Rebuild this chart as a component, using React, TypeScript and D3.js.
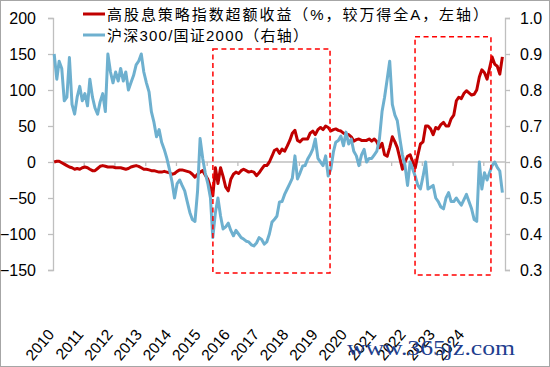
import React, { useRef, useEffect } from 'react';
import * as d3 from 'd3';

// monthly values, Jan 2010 .. Aug 2024
const excessReturn = [
  0, 1, 1, -1, -3, -5, -7, -8, -10, -9, -10, -8,
  -7, -8, -10, -12, -12, -9, -6, -5, -6, -7, -7, -7,
  -8, -8, -8, -9, -10, -9, -7, -6, -5, -6, -8, -10,
  -10, -11, -12, -12, -13, -14, -14, -13, -14, -15, -17, -16,
  -13, -11, -11, -12, -13, -14, -17, -21, -17, -14, -12, -18,
  -24, -35, -47, -8, -30, -8, -20, -35, -40, -24, -17, -14,
  -16, -12, -10, -12, -14, -13, -14, -19, -15, -10, -5, -5,
  0, 8, 16, 18, 12, 18, 15, 22, 30, 40, 44, 30,
  28, 32, 32, 32, 40, 43, 38, 45, 48, 45, 50, 48,
  43, 45, 46, 44, 43, 40, 39, 38, 35, 29, 31, 32,
  30, 30, 30, 32, 29, 32, 28, 20, 26, 10, 8, 20,
  35, 28, 20, 5, -10, 0, 8, 10, 0, -8, 10, 25,
  28, 50, 50, 46, 38, 48, 46, 52, 55, 50, 50, 60,
  65, 85, 90, 88, 95, 99, 96, 93, 94, 100, 118, 128,
  124, 115, 130, 146, 136, 133, 122, 146,
];

const sizeRatio = [
  0.90, 0.83, 0.88, 0.86, 0.77, 0.78, 0.89, 0.76, 0.733, 0.78, 0.81, 0.77,
  0.79, 0.756, 0.83, 0.78, 0.75, 0.733, 0.767, 0.79, 0.74, 0.90, 0.85, 0.82,
  0.85, 0.825, 0.86, 0.825, 0.85, 0.80, 0.82, 0.84, 0.87, 0.88, 0.90, 0.85,
  0.82, 0.795, 0.74, 0.71, 0.67, 0.69, 0.655, 0.635, 0.61, 0.58, 0.545, 0.50,
  0.54, 0.55, 0.535, 0.52, 0.49, 0.46, 0.44, 0.435, 0.52, 0.665, 0.61, 0.57,
  0.54, 0.50, 0.39, 0.46, 0.50, 0.45, 0.414, 0.42, 0.43, 0.41, 0.395, 0.41,
  0.40, 0.39, 0.386, 0.38, 0.378, 0.37, 0.367, 0.375, 0.39, 0.385, 0.372, 0.378,
  0.40, 0.433, 0.44, 0.45, 0.489, 0.49, 0.51, 0.525, 0.54, 0.555, 0.617, 0.553,
  0.57, 0.589, 0.59, 0.608, 0.62, 0.636, 0.664, 0.61, 0.60, 0.59, 0.617, 0.561,
  0.58, 0.628, 0.655, 0.66, 0.672, 0.645, 0.683, 0.65, 0.664, 0.63, 0.617, 0.59,
  0.62, 0.635, 0.60, 0.61, 0.61, 0.62, 0.63, 0.665, 0.74, 0.78, 0.83, 0.88,
  0.76, 0.73, 0.715, 0.665, 0.62, 0.59, 0.535, 0.60, 0.58, 0.56, 0.535, 0.525,
  0.56, 0.60, 0.525, 0.53, 0.535, 0.50, 0.49, 0.475, 0.47, 0.50, 0.515, 0.49,
  0.49, 0.50, 0.49, 0.48, 0.495, 0.51, 0.49, 0.47, 0.44, 0.435, 0.60, 0.525,
  0.57, 0.55, 0.57, 0.59, 0.60, 0.585, 0.575, 0.515,
];

const yearLabels = ['2010', '2011', '2012', '2013', '2014', '2015', '2016', '2017',
  '2018', '2019', '2020', '2021', '2022', '2023', '2024'];
const leftTicks = [-150, -100, -50, 0, 50, 100, 150, 200];
const rightTicks = [0.3, 0.4, 0.5, 0.6, 0.7, 0.8, 0.9, 1.0];

// highlighted periods (dates, left-axis values)
const boxStarts = ['2015-03-16', '2021-10-12'];
const boxEnds = ['2019-01-06', '2024-04-01'];
const boxTops = [157, 174];
const boxBottoms = [-154, -157];

const seriesNames = ['高股息策略指数超额收益（%，较万得全A，左轴）', '沪深300/国证2000（右轴）'];

const RED = '#c00000';
const BLUE = '#6eb0cf';
const FONT = '"Liberation Sans", Arial, "Noto Sans CJK SC", sans-serif';

const App = () => {
  const svgRef = useRef<SVGSVGElement>(null);

  useEffect(() => {
    const width = 550;
    const height = 367;
    const svg = d3.select(svgRef.current).attr('width', width).attr('height', height);
    svg.selectAll('*').remove();

    const months = d3.timeMonth
      .range(new Date(2010, 0, 1), new Date(2024, 8, 1))
      .map(d => new Date(d.getFullYear(), d.getMonth(), 15));

    const x = d3.scaleTime()
      .domain([new Date(2010, 0, 1), new Date(2024, 8, 15)])
      .range([53, 505]);
    const yL = d3.scaleLinear().domain([-150, 200]).range([270, 18]);
    const yR = d3.scaleLinear().domain([0.3, 1.0]).range([270, 18]);
    const parse = d3.timeParse('%Y-%m-%d');

    svg.append('rect')
      .attr('x', 0.5).attr('y', 0.5)
      .attr('width', width - 1).attr('height', height - 1)
      .attr('fill', 'white').attr('stroke', '#a6a6a6');

    // left axis
    const gL = svg.append('g')
      .attr('transform', 'translate(53,0)')
      .call(d3.axisLeft(yL).tickValues(leftTicks).tickSize(5).tickPadding(12));
    // right axis
    const gR = svg.append('g')
      .attr('transform', 'translate(505,0)')
      .call(d3.axisRight(yR).tickValues(rightTicks).tickSize(5).tickPadding(10)
        .tickFormat(d3.format('.1f')));
    // zero line with yearly ticks
    const gX = svg.append('g')
      .attr('transform', `translate(0,${yL(0)})`)
      .call(d3.axisBottom(x).ticks(d3.timeYear.every(1)).tickSize(4).tickFormat(() => ''));

    [gL, gR, gX].forEach(g => {
      g.select('.domain').attr('stroke', '#bfbfbf').attr('stroke-width', 1.3);
      g.selectAll('.tick line').attr('stroke', '#bfbfbf').attr('stroke-width', 1.3);
      g.selectAll('text').attr('font-family', FONT).attr('font-size', 16).attr('fill', '#000');
    });
    gX.select('.domain').attr('d', `M53,0H505`);
    gX.selectAll('.tick').filter((d: any) => x(d) < 60 || x(d) > 500).remove();

    // series
    const redLine = d3.line<number>()
      .x((d, i) => x(months[i]))
      .y(d => yL(d));
    const blueLine = d3.line<number>()
      .x((d, i) => x(months[i]))
      .y(d => yR(d));

    svg.append('path').datum(excessReturn)
      .attr('fill', 'none').attr('stroke', RED).attr('stroke-width', 3)
      .attr('stroke-linejoin', 'round').attr('d', redLine);
    svg.append('path').datum(sizeRatio)
      .attr('fill', 'none').attr('stroke', BLUE).attr('stroke-width', 3)
      .attr('stroke-linejoin', 'round').attr('d', blueLine);

    // dashed boxes
    boxStarts.forEach((s, i) => {
      const x0 = x(parse(s)!);
      const x1 = x(parse(boxEnds[i])!);
      svg.append('rect')
        .attr('x', x0).attr('y', yL(boxTops[i]))
        .attr('width', x1 - x0).attr('height', yL(boxBottoms[i]) - yL(boxTops[i]))
        .attr('fill', 'none').attr('stroke', '#ff0000')
        .attr('stroke-width', 1.5).attr('stroke-dasharray', '5,3.5');
    });

    // year labels
    const xl = d3.scalePoint().domain(yearLabels).range([55, 465]);
    svg.append('g').selectAll('text').data(yearLabels).enter().append('text')
      .attr('transform', d => `translate(${xl(d)},335) rotate(-50)`)
      .attr('text-anchor', 'end')
      .attr('font-family', FONT).attr('font-size', 15.5)
      .text(d => d);

    // legend
    const legend = svg.append('g');
    const colors = [RED, BLUE];
    const lens = [381, 201];
    seriesNames.forEach((name, i) => {
      const yy = 14 + i * 21;
      legend.append('line')
        .attr('x1', 83).attr('x2', 105).attr('y1', yy).attr('y2', yy)
        .attr('stroke', colors[i]).attr('stroke-width', 3);
      legend.append('text')
        .attr('x', 107).attr('y', yy + 5.5)
        .attr('font-family', FONT).attr('font-size', 15)
        .attr('textLength', lens[i]).attr('lengthAdjust', 'spacing')
        .text(name);
    });

    // watermark
    svg.append('text')
      .attr('x', 347).attr('y', 355)
      .attr('font-family', '"Liberation Serif", serif').attr('font-size', 22)
      .attr('fill', '#1f3f8f').attr('textLength', 168).attr('lengthAdjust', 'spacingAndGlyphs')
      .text('www.365jz.com');
  }, []);

  return (
    <svg ref={svgRef} style={{ position: 'absolute', left: 0, top: 0 }}></svg>
  );
};

export default App;
